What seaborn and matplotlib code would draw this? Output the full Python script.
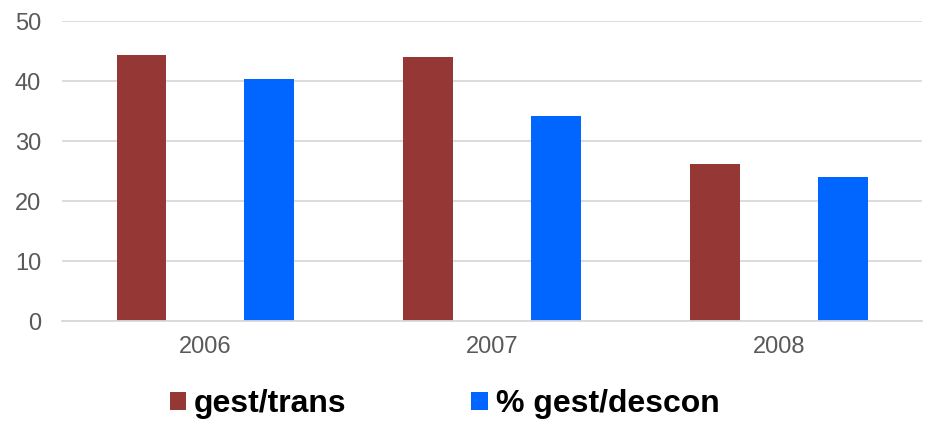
import numpy as np
import pandas as pd
from matplotlib import pyplot as plt
import seaborn as sns

sns.set_style("white")
plt.rcParams['font.family'] = ['Liberation Sans', 'DejaVu Sans']

# data
years = ['2006', '2007', '2008']
series = ['gest/trans', '% gest/descon']
gest_trans = [44.3, 44.0, 26.2]
gest_descon = [40.3, 34.1, 24.0]
colors = ['#953735', '#0066ff']

df = pd.DataFrame({
    'year': years * 2,
    'serie': [series[0]] * 3 + [series[1]] * 3,
    'value': gest_trans + gest_descon,
})

fig = plt.figure(figsize=(9.34, 4.21), dpi=100)
ax = fig.add_axes([0.0664, 0.2375, 0.921, 0.7125])

sns.barplot(data=df, x='year', y='value', hue='serie', palette=colors,
            width=0.89, gap=0.61, saturation=1, linewidth=0, ax=ax, legend=True)

ax.set_ylim(0, 50)
ax.set_xlim(-0.5, 2.5)
ax.set_yticks(np.arange(0, 51, 10))
ax.yaxis.grid(True, color='#d9d9d9', linewidth=1.3)
ax.set_axisbelow(True)
for s in ['top', 'right', 'left']:
    ax.spines[s].set_visible(False)
ax.spines['bottom'].set_color('#d9d9d9')
ax.spines['bottom'].set_linewidth(1.3)
ax.tick_params(axis='both', length=0, labelsize=17, labelcolor='#595959')
ax.tick_params(axis='x', pad=11)
ax.tick_params(axis='y', pad=15)
ax.set_xlabel('')
ax.set_ylabel('')

handles, labels = ax.get_legend_handles_labels()
ax.get_legend().remove()
leg = fig.legend(handles, labels, loc='center', bbox_to_anchor=(0.476, 0.04), ncol=2,
                 frameon=False, prop={'weight': 'bold', 'size': 23},
                 handlelength=0.52, handleheight=0.52, handletextpad=0.25,
                 columnspacing=3.9, borderaxespad=0)
for t in leg.get_texts():
    t.set_color('black')

plt.savefig('out.png', dpi=100)
